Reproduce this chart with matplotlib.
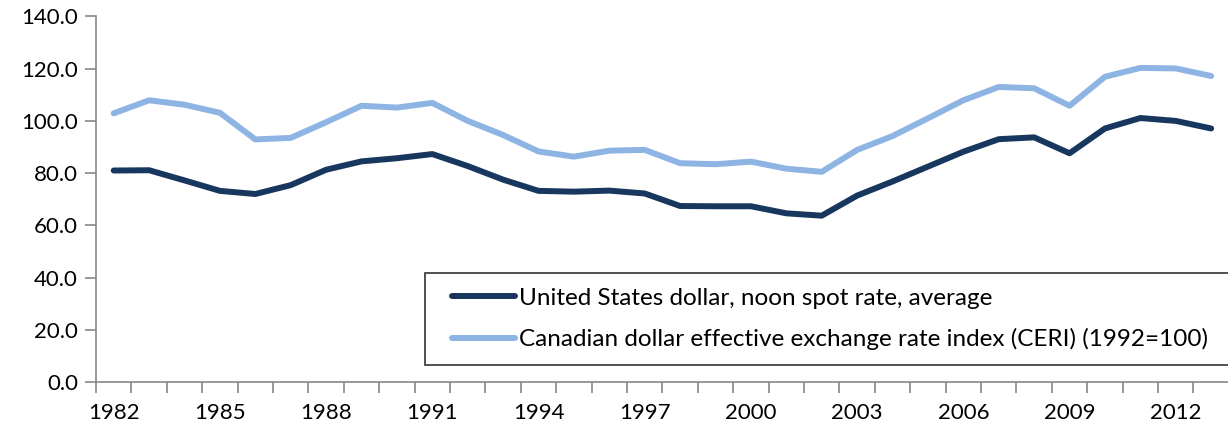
import matplotlib
matplotlib.use("Agg")
import matplotlib.pyplot as plt
from matplotlib.lines import Line2D
from matplotlib.legend_handler import HandlerLine2D
from matplotlib.ticker import FixedLocator, FuncFormatter

plt.rcParams["font.family"] = ["Lato", "DejaVu Sans"]
plt.rcParams["font.size"] = 16

years = list(range(1982, 2014))
usd_rate = [81.0, 81.1, 77.2, 73.2, 72.0, 75.4, 81.3, 84.5, 85.7, 87.3,
            82.7, 77.5, 73.2, 72.9, 73.3, 72.2, 67.4, 67.3, 67.3, 64.6,
            63.7, 71.4, 76.8, 82.5, 88.2, 93.0, 93.7, 87.6, 97.1, 101.1,
            100.0, 97.1]
ceri = [102.9, 107.9, 106.2, 103.1, 92.9, 93.5, 99.5, 105.8, 105.1, 106.9,
        100.0, 94.6, 88.3, 86.3, 88.6, 88.9, 83.8, 83.4, 84.4, 81.7,
        80.5, 88.9, 94.2, 101.0, 107.9, 113.0, 112.5, 105.8, 116.9, 120.3,
        120.1, 117.2]
series_labels = ["United States dollar, noon spot rate, average",
                 "Canadian dollar effective exchange rate index (CERI) (1992=100)"]

fig = plt.figure(figsize=(12.28, 4.29), dpi=100)
ax = fig.add_axes([0.0782, 0.1096, 0.9225, 0.852])

x = list(range(len(years)))
ax.plot(x, usd_rate, color="#17375E", linewidth=4.3, solid_capstyle="round",
        label=series_labels[0])
ax.plot(x, ceri, color="#8DB4E2", linewidth=4.3, solid_capstyle="round",
        label=series_labels[1])

ax.set_xlim(-0.5, len(years) - 0.5)
ax.set_ylim(0, 140)
ax.set_yticks(range(0, 141, 20))
ax.yaxis.set_major_formatter(FuncFormatter(lambda v, p: f"{v:.1f}"))

# category axis: tick marks between categories, labels every third year
ax.xaxis.set_major_locator(FixedLocator(x[::3]))
ax.set_xticklabels([str(y) for y in years[::3]])
ax.xaxis.set_minor_locator(FixedLocator([i - 0.5 for i in range(len(years) + 1)]))
ax.tick_params(axis="x", which="major", length=0, pad=15)
ax.tick_params(axis="x", which="minor", length=8, color="#888888", width=1.2)
ax.tick_params(axis="y", length=8, color="#888888", width=1.2, pad=5)

for s in ["top", "right"]:
    ax.spines[s].set_visible(False)
for s in ["left", "bottom"]:
    ax.spines[s].set_color("#888888")
    ax.spines[s].set_linewidth(1.2)

leg = ax.legend(loc="lower left", bbox_to_anchor=(0.2906, 0.0465, 0.7094, 0.24),
                mode="expand", frameon=True, fancybox=False, edgecolor="black",
                handlelength=3.1, handletextpad=0.15, borderpad=0.6,
                labelspacing=0.8, fontsize=17.5, borderaxespad=0,
                handler_map={Line2D: HandlerLine2D(xpad=0.5)})
leg.get_frame().set_linewidth(1.2)

fig.savefig("out.png", dpi=100)
